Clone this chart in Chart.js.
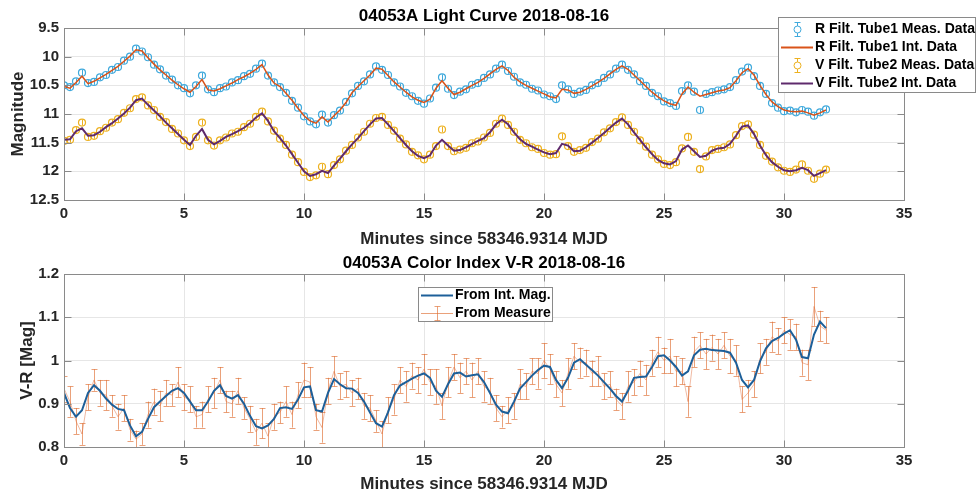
<!DOCTYPE html>
<html>
<head>
<meta charset="utf-8">
<title>04053A Light Curve 2018-08-16</title>
<script src="https://cdn.jsdelivr.net/npm/chart.js@4.4.1/dist/chart.umd.min.js"></script>
<style>
  html, body { margin: 0; padding: 0; background: #fff; }
  #wrap { position: relative; width: 978px; height: 495px; }
  canvas { position: absolute; left: 0; }
  #lc { top: 0; }
  #ci { top: 248px; }
</style>
</head>
<body>
<div id="wrap">
  <canvas id="lc" width="978" height="248"></canvas>
  <canvas id="ci" width="978" height="247"></canvas>
</div>
<script>
// ---------------- data ----------------
const minutes = [
  0, 0.25, 0.5, 0.75, 1, 1.25, 1.5, 1.75,
  2, 2.25, 2.5, 2.75, 3, 3.25, 3.5, 3.75,
  4, 4.25, 4.5, 4.75, 5, 5.25, 5.5, 5.75,
  6, 6.25, 6.5, 6.75, 7, 7.25, 7.5, 7.75,
  8, 8.25, 8.5, 8.75, 9, 9.25, 9.5, 9.75,
  10, 10.25, 10.5, 10.75, 11, 11.25, 11.5, 11.75,
  12, 12.25, 12.5, 12.75, 13, 13.25, 13.5, 13.75,
  14, 14.25, 14.5, 14.75, 15, 15.25, 15.5, 15.75,
  16, 16.25, 16.5, 16.75, 17, 17.25, 17.5, 17.75,
  18, 18.25, 18.5, 18.75, 19, 19.25, 19.5, 19.75,
  20, 20.25, 20.5, 20.75, 21, 21.25, 21.5, 21.75,
  22, 22.25, 22.5, 22.75, 23, 23.25, 23.5, 23.75,
  24, 24.25, 24.5, 24.75, 25, 25.25, 25.5, 25.75,
  26, 26.25, 26.5, 26.75, 27, 27.25, 27.5, 27.75,
  28, 28.25, 28.5, 28.75, 29, 29.25, 29.5, 29.75,
  30, 30.25, 30.5, 30.75, 31, 31.25, 31.5, 31.75
];

// R filter, tube 1 (magnitudes)
const rMeas = [
  10.50, 10.53, 10.43, 10.28, 10.46, 10.44, 10.36, 10.32,
  10.23, 10.18, 10.07, 10.00, 9.86, 9.91, 10.01, 10.14,
  10.22, 10.33, 10.40, 10.50, 10.55, 10.64, 10.50, 10.33,
  10.57, 10.62, 10.55, 10.52, 10.45, 10.41, 10.34, 10.30,
  10.21, 10.12, 10.33, 10.45, 10.53, 10.63, 10.77, 10.89,
  11.04, 11.13, 11.18, 11.01, 11.15, 11.02, 10.94, 10.79,
  10.64, 10.51, 10.43, 10.31, 10.17, 10.23, 10.32, 10.45,
  10.52, 10.63, 10.69, 10.77, 10.82, 10.73, 10.54, 10.36,
  10.56, 10.67, 10.61, 10.57, 10.49, 10.46, 10.37, 10.31,
  10.21, 10.14, 10.25, 10.35, 10.45, 10.49, 10.56, 10.59,
  10.66, 10.69, 10.74, 10.50, 10.57, 10.65, 10.61, 10.58,
  10.50, 10.46, 10.37, 10.31, 10.21, 10.14, 10.23, 10.31,
  10.43, 10.51, 10.63, 10.69, 10.78, 10.81, 10.86, 10.60,
  10.50, 10.61, 10.93, 10.65, 10.62, 10.59, 10.57, 10.53,
  10.41, 10.26, 10.19, 10.34, 10.51, 10.65, 10.81, 10.89,
  10.95, 10.94, 10.97, 10.93, 10.96, 11.03, 10.97, 10.92
];
const rInt = [
  10.52, 10.55, 10.45, 10.34, 10.47, 10.43, 10.37, 10.31,
  10.24, 10.17, 10.08, 9.99, 9.88, 9.90, 10.02, 10.13,
  10.23, 10.32, 10.41, 10.49, 10.56, 10.62, 10.52, 10.40,
  10.58, 10.60, 10.56, 10.51, 10.46, 10.40, 10.35, 10.29,
  10.22, 10.14, 10.32, 10.46, 10.52, 10.64, 10.76, 10.90,
  11.03, 11.12, 11.16, 11.05, 11.14, 11.03, 10.93, 10.80,
  10.63, 10.52, 10.42, 10.32, 10.20, 10.22, 10.33, 10.44,
  10.53, 10.62, 10.70, 10.76, 10.80, 10.74, 10.55, 10.42,
  10.55, 10.66, 10.62, 10.56, 10.50, 10.45, 10.38, 10.30,
  10.22, 10.16, 10.24, 10.36, 10.44, 10.50, 10.55, 10.60,
  10.65, 10.70, 10.72, 10.57, 10.58, 10.64, 10.62, 10.57,
  10.51, 10.45, 10.38, 10.30, 10.22, 10.16, 10.22, 10.32,
  10.42, 10.52, 10.62, 10.70, 10.77, 10.82, 10.85, 10.65,
  10.53, 10.62, 10.69, 10.66, 10.63, 10.60, 10.58, 10.54,
  10.42, 10.28, 10.21, 10.32, 10.50, 10.66, 10.79, 10.87,
  10.93, 10.95, 10.96, 10.95, 10.98, 11.02, 10.98, 10.93
];

// V filter, tube 2 (magnitudes)
const vMeas = [
  11.47, 11.45, 11.28, 11.15, 11.40, 11.38, 11.30, 11.24,
  11.15, 11.09, 10.98, 10.90, 10.74, 10.71, 10.85, 10.93,
  11.05, 11.14, 11.26, 11.34, 11.46, 11.56, 11.40, 11.15,
  11.46, 11.55, 11.46, 11.41, 11.34, 11.31, 11.23, 11.17,
  11.05, 10.96, 11.13, 11.29, 11.43, 11.54, 11.71, 11.84,
  12.01, 12.10, 12.07, 11.92, 12.05, 11.89, 11.79, 11.64,
  11.54, 11.41, 11.31, 11.17, 11.07, 11.05, 11.19, 11.29,
  11.43, 11.53, 11.66, 11.72, 11.79, 11.71, 11.56, 11.27,
  11.56, 11.65, 11.62, 11.59, 11.51, 11.48, 11.41, 11.33,
  11.17, 11.08, 11.19, 11.31, 11.45, 11.51, 11.58, 11.61,
  11.68, 11.71, 11.70, 11.39, 11.56, 11.66, 11.63, 11.59,
  11.49, 11.43, 11.32, 11.25, 11.14, 11.06, 11.19, 11.31,
  11.46, 11.57, 11.71, 11.79, 11.87, 11.89, 11.84, 11.60,
  11.40, 11.66, 11.96, 11.74, 11.63, 11.61, 11.58, 11.53,
  11.37, 11.21, 11.18, 11.36, 11.54, 11.73, 11.83, 11.93,
  11.99, 12.01, 11.97, 11.88, 11.99, 12.13, 12.04, 11.97
];
const vInt = [
  11.45, 11.44, 11.30, 11.25, 11.38, 11.37, 11.31, 11.23,
  11.16, 11.08, 10.99, 10.89, 10.76, 10.73, 10.84, 10.94,
  11.04, 11.15, 11.25, 11.35, 11.45, 11.54, 11.38, 11.26,
  11.45, 11.53, 11.47, 11.40, 11.35, 11.30, 11.24, 11.16,
  11.06, 10.99, 11.12, 11.30, 11.42, 11.55, 11.70, 11.85,
  12.00, 12.08, 12.05, 11.99, 12.03, 11.90, 11.78, 11.65,
  11.53, 11.42, 11.30, 11.18, 11.08, 11.07, 11.18, 11.30,
  11.42, 11.54, 11.65, 11.73, 11.77, 11.72, 11.55, 11.45,
  11.55, 11.64, 11.63, 11.58, 11.52, 11.47, 11.42, 11.32,
  11.18, 11.10, 11.18, 11.32, 11.44, 11.52, 11.57, 11.62,
  11.67, 11.70, 11.68, 11.52, 11.55, 11.65, 11.64, 11.58,
  11.50, 11.42, 11.33, 11.24, 11.15, 11.08, 11.18, 11.32,
  11.45, 11.58, 11.70, 11.80, 11.86, 11.88, 11.82, 11.62,
  11.55, 11.65, 11.75, 11.73, 11.64, 11.60, 11.59, 11.52,
  11.38, 11.22, 11.20, 11.35, 11.55, 11.72, 11.84, 11.92,
  11.98, 12.00, 11.98, 11.94, 11.98, 12.08, 12.03, 11.98
];
const magErr = 0.05;

// colour index V-R
const vrInt = [
  0.925, 0.890, 0.870, 0.885, 0.925, 0.943, 0.930, 0.912,
  0.898, 0.888, 0.885, 0.850, 0.825, 0.835, 0.865, 0.892,
  0.905, 0.918, 0.930, 0.936, 0.925, 0.905, 0.885, 0.885,
  0.905, 0.930, 0.943, 0.918, 0.912, 0.920, 0.900, 0.872,
  0.848, 0.843, 0.850, 0.865, 0.890, 0.892, 0.888, 0.910,
  0.938, 0.940, 0.885, 0.882, 0.925, 0.957, 0.945, 0.936,
  0.935, 0.925, 0.905, 0.880, 0.855, 0.847, 0.880, 0.920,
  0.942, 0.950, 0.958, 0.965, 0.970, 0.960, 0.930, 0.916,
  0.945, 0.970, 0.972, 0.963, 0.966, 0.968, 0.950, 0.925,
  0.898, 0.882, 0.878, 0.905, 0.935, 0.950, 0.965, 0.978,
  0.988, 0.985, 0.955, 0.936, 0.960, 0.995, 1.003, 0.990,
  0.978, 0.965, 0.950, 0.935, 0.918, 0.905, 0.930, 0.960,
  0.962, 0.963, 0.985, 1.010, 1.012, 1.000, 0.985, 0.965,
  0.975, 1.012, 1.025, 1.027, 1.024, 1.023, 1.022, 1.018,
  0.995, 0.955, 0.938, 0.955, 0.998, 1.028, 1.045, 1.052,
  1.062, 1.070, 1.048, 1.008, 1.005, 1.060, 1.090, 1.075
];
const vrMeas = [
  0.935, 0.905, 0.860, 0.830, 0.915, 0.955, 0.925, 0.920,
  0.895, 0.870, 0.890, 0.840, 0.818, 0.830, 0.875, 0.905,
  0.895, 0.925, 0.920, 0.950, 0.915, 0.910, 0.870, 0.875,
  0.910, 0.925, 0.955, 0.905, 0.900, 0.930, 0.890, 0.865,
  0.835, 0.855, 0.825, 0.870, 0.880, 0.905, 0.875, 0.920,
  0.955, 0.950, 0.870, 0.845, 0.930, 0.975, 0.940, 0.945,
  0.925, 0.935, 0.895, 0.890, 0.860, 0.830, 0.885, 0.910,
  0.955, 0.940, 0.965, 0.955, 0.980, 0.950, 0.940, 0.895,
  0.950, 0.985, 0.960, 0.975, 0.955, 0.975, 0.940, 0.930,
  0.890, 0.870, 0.885, 0.895, 0.945, 0.940, 0.975, 0.970,
  1.000, 0.980, 0.945, 0.925, 0.970, 1.010, 0.995, 0.995,
  0.970, 0.975, 0.940, 0.945, 0.910, 0.895, 0.940, 0.950,
  0.970, 0.955, 0.995, 1.020, 1.000, 1.010, 0.975, 0.975,
  0.905, 1.020, 1.035, 1.015, 1.030, 1.015, 1.035, 1.010,
  1.000, 0.910, 0.925, 0.945, 1.005, 1.020, 1.055, 1.045,
  1.070, 1.060, 1.055, 0.995, 0.990, 1.125, 1.080, 1.070
];
const vrErr = [
  0.030, 0.035, 0.030, 0.025, 0.030, 0.025, 0.030, 0.035,
  0.025, 0.030, 0.030, 0.025, 0.020, 0.025, 0.030, 0.030,
  0.035, 0.030, 0.025, 0.035, 0.030, 0.030, 0.025, 0.030,
  0.030, 0.035, 0.030, 0.025, 0.030, 0.030, 0.025, 0.030,
  0.030, 0.035, 0.030, 0.030, 0.025, 0.035, 0.030, 0.030,
  0.040, 0.035, 0.030, 0.035, 0.030, 0.035, 0.030, 0.030,
  0.030, 0.025, 0.030, 0.030, 0.025, 0.030, 0.030, 0.035,
  0.030, 0.035, 0.030, 0.030, 0.035, 0.030, 0.040, 0.030,
  0.035, 0.030, 0.035, 0.030, 0.040, 0.030, 0.035, 0.030,
  0.030, 0.025, 0.030, 0.030, 0.035, 0.030, 0.030, 0.035,
  0.040, 0.035, 0.030, 0.030, 0.035, 0.030, 0.035, 0.030,
  0.030, 0.035, 0.030, 0.030, 0.025, 0.030, 0.035, 0.030,
  0.030, 0.035, 0.030, 0.035, 0.030, 0.040, 0.035, 0.030,
  0.035, 0.035, 0.030, 0.035, 0.030, 0.035, 0.030, 0.040,
  0.035, 0.030, 0.030, 0.030, 0.035, 0.030, 0.035, 0.030,
  0.030, 0.035, 0.030, 0.030, 0.035, 0.045, 0.035, 0.030
];

const xTicks = [0, 5, 10, 15, 20, 25, 30, 35];
const magTicks = [9.5, 10, 10.5, 11, 11.5, 12, 12.5];
const vrTicks = [0.8, 0.9, 1, 1.1, 1.2];
// ---------------------------------------------------------

const FONT = "'Liberation Sans', Arial, Helvetica, sans-serif";
const TXT = '#262626';
const C_RMEAS = '#3fa9dc';
const C_RINT = '#D95319';
const C_VMEAS = '#EDB120';
const C_VINT = '#5e2a6c';
const C_VRINT = '#1d5f99';
const C_VRMEAS = 'rgba(217, 83, 25, 0.4)';
const C_VRBAR = 'rgba(222, 110, 50, 0.65)';

const pts = ys => minutes.map((t, i) => ({ x: t, y: ys[i] }));
const bold = (size, lh) => ({ family: FONT, size: size, weight: 'bold', lineHeight: lh || 1.2 });
const fmt = v => String(Math.round(v * 100) / 100);

// error bars drawn right after their own dataset, through the y scale
const errorBars = {
  id: 'errorBars',
  afterDatasetDraw(chart, args) {
    const ds = chart.data.datasets[args.index];
    if (ds.errors === undefined) return;
    const { ctx, chartArea: a } = chart;
    const ys = chart.scales.y;
    ctx.save();
    ctx.beginPath();
    ctx.rect(a.left, a.top, a.right - a.left, a.bottom - a.top);
    ctx.clip();
    ctx.strokeStyle = ds.errorColor || ds.borderColor;
    ctx.lineWidth = 1;
    ctx.beginPath();
    args.meta.data.forEach((el, i) => {
      const v = ds.data[i].y;
      const e = Array.isArray(ds.errors) ? ds.errors[i] : ds.errors;
      const y1 = ys.getPixelForValue(v - e);
      const y2 = ys.getPixelForValue(v + e);
      const x = Math.round(el.x) + 0.5;
      const c = ds.errorCap || 0;
      ctx.moveTo(x, y1); ctx.lineTo(x, y2);
      if (c) {
        ctx.moveTo(x - c, Math.round(y1) + 0.5); ctx.lineTo(x + c, Math.round(y1) + 0.5);
        ctx.moveTo(x - c, Math.round(y2) + 0.5); ctx.lineTo(x + c, Math.round(y2) + 0.5);
      }
    });
    ctx.stroke();
    ctx.restore();
  }
};

// MATLAB style box with inward ticks
const frame = {
  id: 'frame',
  afterDatasetsDraw(chart) {
    const { ctx, chartArea: a, scales: { x, y } } = chart;
    const L = Math.round(a.left) + 0.5, R = Math.round(a.right) + 0.5;
    const T = Math.round(a.top) + 0.5, B = Math.round(a.bottom) + 0.5;
    ctx.save();
    ctx.strokeStyle = '#8a8a8a';
    ctx.lineWidth = 1;
    ctx.strokeRect(L, T, R - L, B - T);
    ctx.beginPath();
    x.ticks.forEach(t => {
      const p = Math.round(x.getPixelForValue(t.value)) + 0.5;
      ctx.moveTo(p, B); ctx.lineTo(p, B - 7);
      ctx.moveTo(p, T); ctx.lineTo(p, T + 7);
    });
    y.ticks.forEach(t => {
      const p = Math.round(y.getPixelForValue(t.value)) + 0.5;
      ctx.moveTo(L, p); ctx.lineTo(L + 7, p);
      ctx.moveTo(R, p); ctx.lineTo(R - 7, p);
    });
    ctx.stroke();
    ctx.restore();
  }
};

// title above the axes
const panelTitle = {
  id: 'panelTitle',
  afterDraw(chart, args, opts) {
    if (!opts.text) return;
    const { ctx, chartArea: a } = chart;
    ctx.save();
    ctx.font = 'bold 17px ' + FONT;
    ctx.fillStyle = '#000';
    ctx.textAlign = 'center';
    ctx.textBaseline = 'middle';
    ctx.fillText(opts.text, (a.left + a.right) / 2, opts.y);
    ctx.restore();
  }
};

// boxed legend at a fixed spot
const boxLegend = {
  id: 'boxLegend',
  afterDraw(chart, args, opts) {
    if (!opts.items) return;
    const ctx = chart.ctx;
    ctx.save();
    ctx.fillStyle = '#fff';
    ctx.fillRect(opts.x, opts.y, opts.w, opts.h);
    ctx.strokeStyle = '#8a8a8a';
    ctx.lineWidth = 1;
    ctx.strokeRect(opts.x + 0.5, opts.y + 0.5, opts.w, opts.h);
    ctx.font = 'bold 14px ' + FONT;
    ctx.textBaseline = 'middle';
    ctx.textAlign = 'left';
    for (let i = 0; i < opts.items.length; i++) {
      const it = opts.items[i];
      const cy = Math.round(opts.y + opts.first + i * opts.step) + 0.5;
      const x0 = opts.x + 3, x1 = x0 + 32, xm = Math.round((x0 + x1) / 2) + 0.5;
      ctx.strokeStyle = it.color;
      ctx.lineWidth = it.width || 1;
      ctx.beginPath();
      if (it.kind === 'line' || it.kind === 'errline') {
        ctx.moveTo(x0, cy); ctx.lineTo(x1, cy);
      }
      if (it.kind === 'marker' || it.kind === 'errline') {
        ctx.moveTo(xm, cy - 7); ctx.lineTo(xm, cy + 7);
        ctx.moveTo(xm - 3, cy - 7); ctx.lineTo(xm + 3, cy - 7);
        ctx.moveTo(xm - 3, cy + 7); ctx.lineTo(xm + 3, cy + 7);
      }
      ctx.stroke();
      if (it.kind === 'marker') {
        ctx.beginPath();
        ctx.arc(xm, cy, 3.5, 0, Math.PI * 2);
        ctx.fillStyle = '#fff';
        ctx.fill();
        ctx.stroke();
      }
      ctx.fillStyle = '#000';
      ctx.fillText(it.label, x1 + 2, cy);
    }
    ctx.restore();
  }
};

function xScale(labelPad) {
  return {
    type: 'linear', min: 0, max: 35,
    afterBuildTicks: s => { s.ticks = xTicks.map(v => ({ value: v })); },
    afterFit: s => { s.height = 48; },
    grid: { color: '#e6e6e6', drawTicks: false },
    border: { display: false },
    ticks: { padding: 5, color: TXT, font: bold(15), maxRotation: 0, autoSkip: false, callback: fmt },
    title: { display: true, text: 'Minutes since 58346.9314 MJD', color: TXT, font: bold(17, 1), padding: { top: 0, bottom: labelPad } }
  };
}

function yScale(min, max, tickList, label, labelPad, reverse) {
  return {
    type: 'linear', min: min, max: max, reverse: reverse,
    afterBuildTicks: s => { s.ticks = tickList.map(v => ({ value: v })); },
    afterFit: s => { s.width = 64; },
    grid: { color: '#e6e6e6', drawTicks: false },
    border: { display: false },
    ticks: { padding: 5, color: TXT, font: bold(15), autoSkip: false, callback: fmt },
    title: { display: true, text: label, color: TXT, font: bold(17), padding: { top: labelPad, bottom: 0 } }
  };
}

const common = {
  responsive: false,
  animation: false,
  events: [],
  elements: { line: { tension: 0 } }
};

// ---- light curve ----
new Chart(document.getElementById('lc').getContext('2d'), {
  type: 'scatter',
  data: {
    datasets: [
      { label: 'V Filt. Tube2 Int. Data', data: pts(vInt), showLine: true, pointRadius: 0, borderColor: C_VINT, borderWidth: 2 },
      { label: 'V Filt. Tube2 Meas. Data', data: pts(vMeas), showLine: false, pointRadius: 3.5, pointBorderWidth: 1.2,
        borderColor: C_VMEAS, backgroundColor: 'transparent', errors: magErr },
      { label: 'R Filt. Tube1 Int. Data', data: pts(rInt), showLine: true, pointRadius: 0, borderColor: C_RINT, borderWidth: 1.5 },
      { label: 'R Filt. Tube1 Meas. Data', data: pts(rMeas), showLine: false, pointRadius: 3.5, pointBorderWidth: 1.2,
        borderColor: C_RMEAS, backgroundColor: 'transparent', errors: magErr }
    ]
  },
  options: {
    ...common,
    layout: { padding: { top: 28, right: 74, left: 0, bottom: 0 } },
    plugins: {
      legend: { display: false },
      tooltip: { enabled: false },
      panelTitle: { text: '04053A Light Curve 2018-08-16', y: 16 },
      boxLegend: {
        x: 778, y: 17, w: 197, h: 75, first: 12, step: 18,
        items: [
          { kind: 'marker', color: C_RMEAS, label: 'R Filt. Tube1 Meas. Data' },
          { kind: 'line', color: C_RINT, width: 2, label: 'R Filt. Tube1 Int. Data' },
          { kind: 'marker', color: C_VMEAS, label: 'V Filt. Tube2 Meas. Data' },
          { kind: 'line', color: C_VINT, width: 2, label: 'V Filt. Tube2 Int. Data' }
        ]
      }
    },
    scales: {
      x: xScale(0),
      y: yScale(9.5, 12.5, magTicks, 'Magnitude', 8, true)
    }
  },
  plugins: [errorBars, frame, panelTitle, boxLegend]
});

// ---- colour index ----
new Chart(document.getElementById('ci').getContext('2d'), {
  type: 'scatter',
  data: {
    datasets: [
      { label: 'From Int. Mag.', data: pts(vrInt), showLine: true, pointRadius: 0, borderColor: C_VRINT, borderWidth: 2 },
      { label: 'From Measure', data: pts(vrMeas), showLine: true, pointRadius: 0, borderColor: C_VRMEAS, borderWidth: 1,
        errors: vrErr, errorCap: 3, errorColor: C_VRBAR }
    ]
  },
  options: {
    ...common,
    layout: { padding: { top: 26, right: 74, left: 0, bottom: 0 } },
    plugins: {
      legend: { display: false },
      tooltip: { enabled: false },
      panelTitle: { text: '04053A Color Index V-R 2018-08-16', y: 15 },
      boxLegend: {
        x: 418, y: 39, w: 134, h: 34, first: 8, step: 18,
        items: [
          { kind: 'line', color: C_VRINT, width: 2, label: 'From Int. Mag.' },
          { kind: 'errline', color: C_VRBAR, label: 'From Measure' }
        ]
      }
    },
    scales: {
      x: xScale(2),
      y: yScale(0.8, 1.2, vrTicks, 'V-R [Mag]', 17, false)
    }
  },
  plugins: [errorBars, frame, panelTitle, boxLegend]
});
</script>
</body>
</html>
